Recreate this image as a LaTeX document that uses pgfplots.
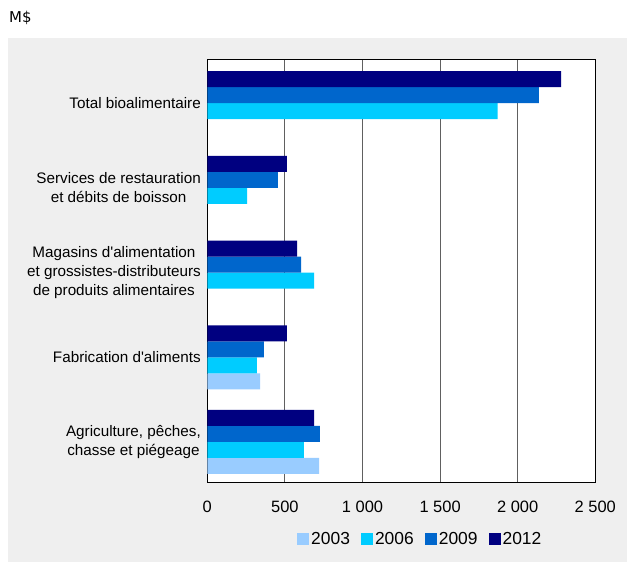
\documentclass[border=0pt]{standalone}
\usepackage{pgfplots}
\pgfplotsset{compat=1.18}
\usepackage{fontspec}
\setmainfont{Liberation Sans}
\newfontfamily\verdana{DejaVu Sans}
\definecolor{cA}{HTML}{99CCFF}
\definecolor{cB}{HTML}{00CCFF}
\definecolor{cC}{HTML}{0066CC}
\definecolor{cD}{HTML}{000080}
\definecolor{panel}{HTML}{EFEFEF}
\definecolor{gridc}{HTML}{606060}
\begin{document}
\begin{tikzpicture}[x=1bp,y=1bp]
\useasboundingbox (0,0) rectangle (627,562);
\fill[panel] (8,0) rectangle (627,524);
\node[anchor=west, inner sep=0] at (9,544) {\verdana\fontsize{15}{18}\selectfont M\$};
\begin{axis}[
    at={(207.3bp,80bp)}, anchor=south west,
    scale only axis, width=388bp, height=422.7bp,
    xbar, bar width=16bp,
    xmin=0, xmax=2500, ymin=-0.472, ymax=4.516,
    axis background/.style={fill=white},
    axis line style={black, line width=0.9bp},
    xtick={0,500,1000,1500,2000,2500},
    xticklabels={0,500,1 000,1 500,2 000,2 500},
    ytick={0,1,2,3,4},
    yticklabels={{Agriculture, pêches,\\chasse et piégeage},
                 {Fabrication d\textquotesingle aliments},
                 {Magasins d\textquotesingle alimentation\\et grossistes-distributeurs\\de produits alimentaires},
                 {Services de restauration\\et débits de boisson},
                 {Total bioalimentaire}},
    major tick length=0pt,
    xmajorgrids=true,
    grid style={gridc, line width=0.9bp},
    xticklabel style={font=\fontsize{16.5}{20}\selectfont, yshift=-16bp},
    yticklabel style={font=\fontsize{15.3}{19.5}\selectfont, align=center, xshift=-3bp},
    legend style={at={(axis description cs:0.549,-0.135)}, anchor=center,
        draw=none, fill=none, legend columns=4,
        font=\fontsize{17.5}{20}\selectfont,
        nodes={inner sep=2bp},
        /tikz/every even column/.append style={column sep=9bp}},
    legend image code/.code={\fill[#1] (0bp,-6bp) rectangle (12bp,6bp);},
]
\addplot[fill=cA, draw=none, bar shift=-24bp] coordinates {(720,0) (340,1)};
\addplot[fill=cB, draw=none, bar shift=-8bp] coordinates {(623,0) (320,1) (688,2) (256,3) (1871,4)};
\addplot[fill=cC, draw=none, bar shift=8bp] coordinates {(726,0) (365,1) (604,2) (455,3) (2137,4)};
\addplot[fill=cD, draw=none, bar shift=24bp] coordinates {(688,0) (513,1) (578,2) (513,3) (2279,4)};
\legend{2003,2006,2009,2012}
\end{axis}
\end{tikzpicture}
\end{document}
